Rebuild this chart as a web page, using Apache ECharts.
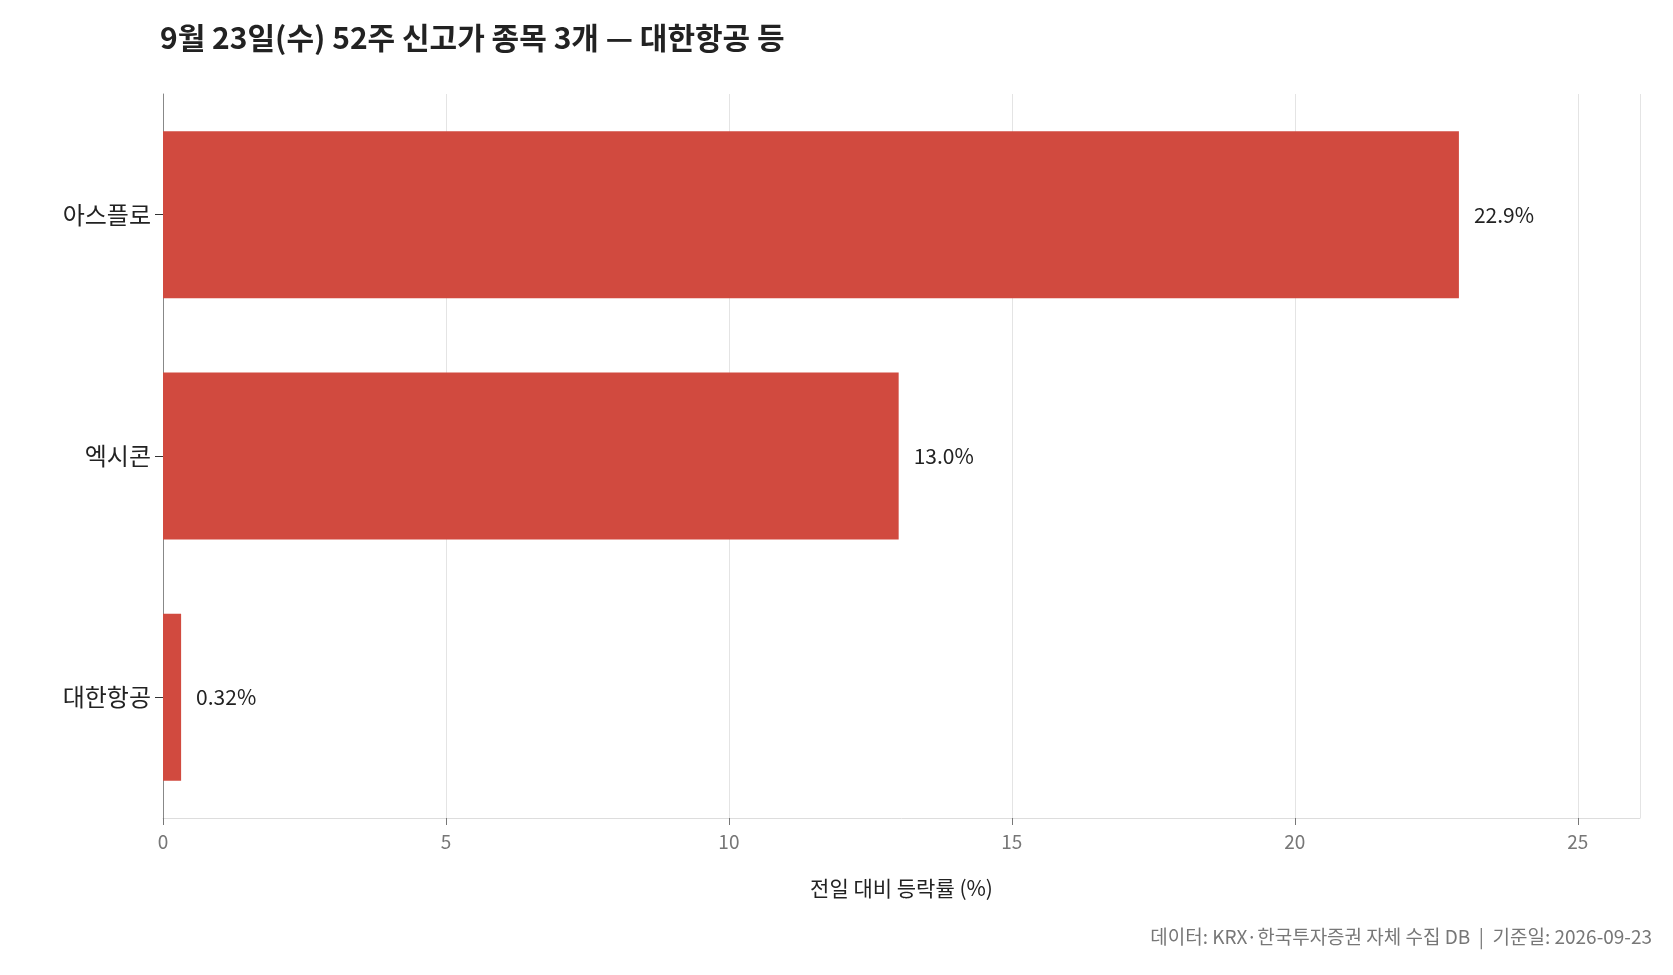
<!DOCTYPE html>
<html><head><meta charset="utf-8">
<script src="https://cdn.jsdelivr.net/npm/echarts@6/dist/echarts.min.js"></script>
<style>html,body{margin:0;padding:0;background:#fff}#c{width:1673px;height:975px}</style>
</head><body><div id="c"></div>
<script>
const categories = ['아스플로', '엑시콘', '대한항공'];
const values = [22.9, 13.0, 0.32];
const valueLabels = ['22.9%', '13.0%', '0.32%'];
const xTicks = [0, 5, 10, 15, 20, 25];
const F = '"Noto Sans CJK KR","Noto Sans",sans-serif';
const chart = echarts.init(document.getElementById('c'));
chart.setOption({
  animation: false,
  textStyle: {fontFamily: F},
  title: {text: '9월 23일(수) 52주 신고가 종목 3개 — 대한항공 등', left: 155, top: 18,
    textStyle: {fontSize: 30, fontWeight: 'bold', color: '#222', fontFamily: F}},
  graphic: [{type: 'text', right: 21, top: 927, style: {text: '데이터: KRX·한국투자증권 자체 수집 DB  |  기준일: 2026-09-23', fontSize: 19, fill: '#777', fontFamily: F}}],
  grid: {left: 163, right: 33, top: 94, bottom: 157},
  xAxis: {type: 'value', min: 0, max: 26.1, interval: 5,
    name: '전일 대비 등락률 (%)', nameLocation: 'middle', nameGap: 60,
    nameTextStyle: {fontSize: 21, color: '#222'},
    axisLine: {show: true, lineStyle: {color: '#ddd'}},
    axisTick: {show: true, length: 7, lineStyle: {color: '#777'}},
    axisLabel: {fontSize: 19, color: '#777', margin: 14, showMaxLabel: false,
      formatter: v => xTicks.includes(v) ? String(v) : ''},
    splitLine: {show: true, lineStyle: {color: '#e4e4e4'}}},
  yAxis: {type: 'category', data: categories, inverse: true,
    axisLine: {lineStyle: {color: '#888'}},
    axisTick: {show: true, alignWithLabel: true, length: 8, lineStyle: {color: '#333'}},
    axisLabel: {fontSize: 24, color: '#222', margin: 12}},
  series: [{type: 'bar', data: values, barWidth: 167, itemStyle: {color: '#d14a3f'},
    label: {show: true, position: 'right', distance: 15, fontSize: 21, color: '#222',
      formatter: p => valueLabels[p.dataIndex]}}]
});
</script></body></html>
